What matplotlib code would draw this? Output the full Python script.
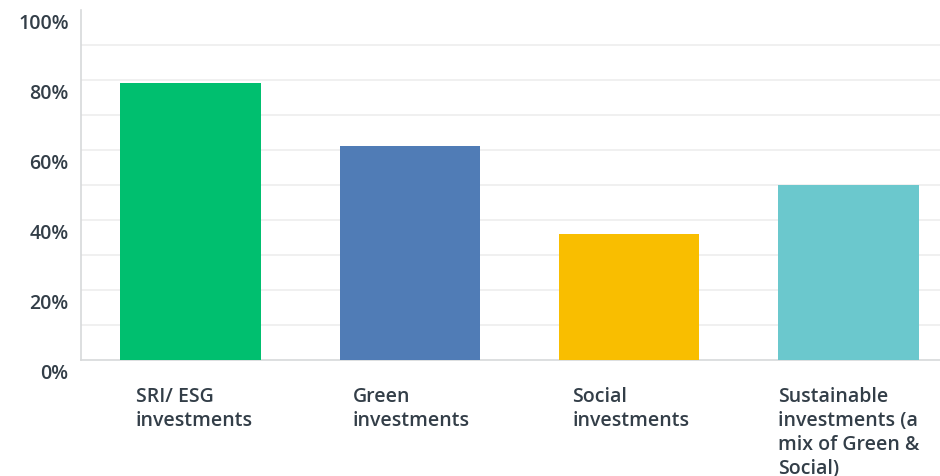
import matplotlib.pyplot as plt
from matplotlib.transforms import ScaledTranslation

plt.rcParams['font.family'] = ['Open Sans', 'DejaVu Sans']

# Anteile je Anlageart (in %)
kategorien = ['SRI/ ESG\ninvestments', 'Green\ninvestments', 'Social\ninvestments',
              'Sustainable\ninvestments (a\nmix of Green &\nSocial)']
werte = [79, 61, 36, 50]
farben = ['#00BF6F', '#507CB6', '#F9BE00', '#6BC8CD']
yticks = [0, 20, 40, 60, 80, 100]

fig = plt.figure(figsize=(9.4, 4.76), dpi=100)
# Achse reicht rechts etwas über den Bildrand hinaus
ax = fig.add_axes([81 / 940, 1 - 360 / 476, 877 / 940, 350 / 476])

x = list(range(len(werte)))
ax.bar(x, werte, width=0.64, color=farben, zorder=3)
ax.set_xlim(-0.5, len(werte) - 0.5)
ax.set_ylim(0, 100)

# Gitterlinien alle 10 %, ohne Linie ganz oben
for g in range(10, 100, 10):
    ax.axhline(g, color='#EDEEEE', lw=1.2, zorder=1)

schrift = dict(fontsize=14, color='#333E48', fontweight='semibold')
ax.set_yticks(yticks)
ax.set_yticklabels([f'{t}%' for t in yticks], **schrift)
ax.tick_params(axis='y', length=0, pad=9)
ax.tick_params(axis='x', length=0, labelbottom=False)
verschiebung = ScaledTranslation(0, -8 / 72, fig.dpi_scale_trans)
for lab in ax.get_yticklabels():
    lab.set_transform(lab.get_transform() + verschiebung)

for s in ['top', 'right']:
    ax.spines[s].set_visible(False)
ax.spines['left'].set_color('#D7D9DA')
ax.spines['bottom'].set_color('#D7D9DA')
ax.spines['left'].set_linewidth(1.2)
ax.spines['bottom'].set_linewidth(1.2)

# Beschriftungen linksbündig unter den Balken
versatz = [-0.25, -0.26, -0.26, -0.32]
for i, txt in enumerate(kategorien):
    ax.annotate(txt, xy=(i + versatz[i], 0), xytext=(0, -19.5), textcoords='offset points',
                ha='left', va='top', linespacing=1.27, annotation_clip=False, **schrift)

fig.savefig('out.png', dpi=100)
